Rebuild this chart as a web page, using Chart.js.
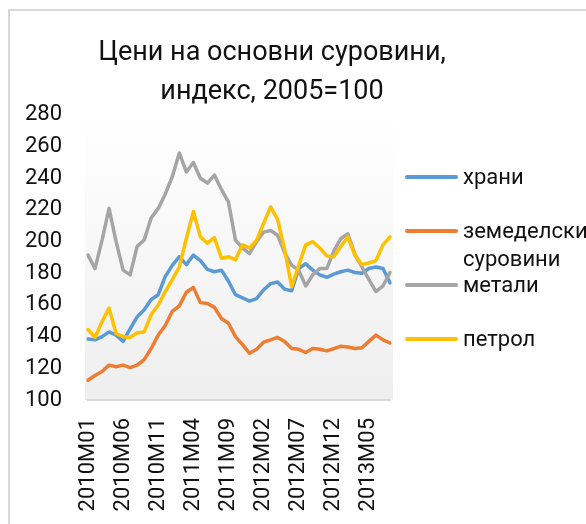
<!DOCTYPE html>
<html>
<head>
<meta charset="utf-8">
<script src="https://cdn.jsdelivr.net/npm/chart.js@4.4.1/dist/chart.umd.min.js"></script>
<style>
body{margin:0;background:#fff;}
#wrap{position:relative;width:586px;height:524px;overflow:hidden;}
#frame{position:absolute;left:8px;top:9px;width:640px;height:640px;border-top:2px solid #d9d9d9;border-left:2px solid #d9d9d9;}
#chartCurve{position:absolute;left:0;top:0;}
#legend{position:absolute;left:405px;top:163px;font-family:Roboto;font-size:22px;color:#111;}
.item{display:flex;height:54px;align-items:flex-start;}
.swatch{flex:none;width:53px;height:4px;margin-top:12px;border-radius:2px;}
.txt{margin-left:5px;line-height:28px;width:125px;}
</style>
</head>
<body>
<div id="wrap">
  <div id="frame"></div>
  <canvas id="chartCurve" width="544" height="524"></canvas>
  <div id="legend"></div>
</div>
<script>
/* month labels, 2010M01 .. 2013M08 */
const months = [
    "2010M01","2010M02","2010M03","2010M04","2010M05","2010M06","2010M07","2010M08","2010M09","2010M10","2010M11","2010M12",
    "2011M01","2011M02","2011M03","2011M04","2011M05","2011M06","2011M07","2011M08","2011M09","2011M10","2011M11","2011M12",
    "2012M01","2012M02","2012M03","2012M04","2012M05","2012M06","2012M07","2012M08","2012M09","2012M10","2012M11","2012M12",
    "2013M01","2013M02","2013M03","2013M04","2013M05","2013M06","2013M07","2013M08"
];
// index values, 2005=100
const foods = [138.5,138,140,143,141,137,145,152.5,157,163.5,166.5,178,
    185,190.5,185.5,191.5,188,182.5,181,182,175,166.5,164.5,162.5,
    164,169.5,173.5,174.5,170,169,183,186,182,179,177.5,179.5,
    181,182,180.5,180,183,184,183,174];
const agri = [112.5,115.5,118,122,121,122,120.5,122,125.5,132.5,141,147,
    156,159.5,168,171,161.5,161,158.5,151.5,148.5,140,135,129.5,
    132,136.5,138,139.5,137,132.5,132,130,132.5,132,131,132.5,
    134,133.5,132.5,133,137,141,138,136];
const metals = [191.5,183,201,221,200,182,179,197,201,215,221,230,
    241,256,244,250,240,237,242,233,225,201,196,192.5,
    200,206,207,204,193,185,182,172,179,183,183,194,
    202,205,192,184,176,168.5,172,180.5];
const oil = [144.5,139.5,149.5,158,142,140,139.5,142.5,143,154,160,168.5,
    176,184,202,219,203,199,202.5,189.5,190.5,188.5,198,196,
    201,211.5,222,214,195,171.5,185,198,200,196,191,190.5,
    197,203,191.5,185.5,186.5,188,198,203];

const seriesNames = ["храни", "земеделски суровини", "метали", "петрол"];
const seriesColors = ["#5B9BD5", "#ED7D31", "#A5A5A5", "#FFC000"];
const seriesValues = [foods, agri, metals, oil];
const yMin = 100, yMax = 280, yStep = 20;
const titleLines = ["Цени на основни суровини,", "индекс, 2005=100"];

const FONT = "Roboto";
const TEXT_COLOR = "#111";

// plot area fill, white fading to light grey
const plotBackground = {
    id: "plotBackground",
    beforeDraw(chart) {
        const {ctx, chartArea: a} = chart;
        const g = ctx.createLinearGradient(0, a.top, 0, a.bottom);
        g.addColorStop(0, "#ffffff");
        g.addColorStop(1, "#eeeeee");
        ctx.save();
        ctx.fillStyle = g;
        ctx.fillRect(a.left - 3, a.top, a.right - a.left + 6, a.bottom - a.top);
        ctx.restore();
    }
};

// legend is built as html next to the canvas
const htmlLegend = {
    id: "htmlLegend",
    afterUpdate(chart) {
        const box = document.getElementById("legend");
        box.innerHTML = "";
        chart.data.datasets.forEach(function (ds) {
            let item = document.createElement("div");
            item.className = "item";
            let sw = document.createElement("span");
            sw.className = "swatch";
            sw.style.background = ds.borderColor;
            let tx = document.createElement("span");
            tx.className = "txt";
            tx.textContent = ds.label;
            item.append(sw, tx);
            box.appendChild(item);
        });
    }
};

var dataCurve = {
    labels: months,
    datasets: seriesValues.map(function (vals, i) {
        return {
            label: seriesNames[i],
            data: vals,
            borderColor: seriesColors[i],
            backgroundColor: seriesColors[i],
            borderWidth: 3.5,
            borderJoinStyle: "round",
            borderCapStyle: "round",
            pointRadius: 0,
            tension: 0,
            order: seriesValues.length - i   // later series on top, like excel
        };
    })
};

var ctxGraph = document.getElementById("chartCurve").getContext("2d");
var chartCurve = new Chart(ctxGraph, {
    type: "line",
    data: dataCurve,
    options: {
        responsive: false,
        animation: false,
        layout: {padding: 0},
        scales: {
            x: {
                offset: false,
                grid: {display: false, drawTicks: false},
                border: {display: true, color: "#d9d9d9", width: 2},
                ticks: {
                    autoSkip: false,
                    maxRotation: 90,
                    minRotation: 90,
                    padding: 18,
                    color: TEXT_COLOR,
                    font: {family: FONT, size: 22},
                    callback: function (val, index) { return index % 5 === 0 ? this.getLabelForValue(val) : ""; }
                },
                afterFit: function (s) { s.height = 124; }
            },
            y: {
                min: yMin,
                max: yMax,
                grid: {display: false, drawTicks: false},
                border: {display: false},
                ticks: {stepSize: yStep, padding: 26, color: TEXT_COLOR, font: {family: FONT, size: 22}},
                afterFit: function (s) { s.width = 88; }
            },
            // empty axis that only keeps room for the html legend
            side: {
                position: "right",
                min: 0,
                max: 1,
                grid: {display: false, drawTicks: false},
                border: {display: false},
                ticks: {display: false},
                afterFit: function (s) { s.width = 154; }
            }
        },
        plugins: {
            legend: {display: false},
            tooltip: {enabled: false},
            title: {
                display: true,
                text: titleLines,
                color: TEXT_COLOR,
                font: {family: FONT, size: 27, weight: "normal", lineHeight: 1.444},
                padding: {top: 34, bottom: 3}
            }
        }
    },
    plugins: [plotBackground, htmlLegend]
});
</script>
</body>
</html>
